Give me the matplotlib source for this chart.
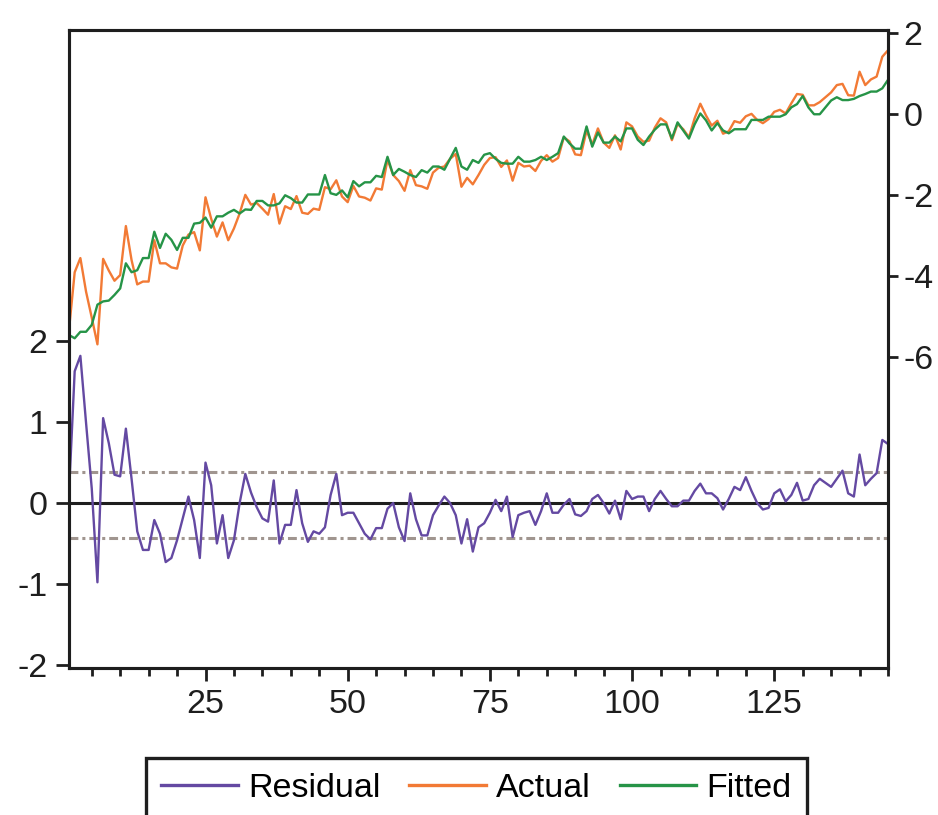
import numpy as np
import matplotlib
matplotlib.use('Agg')
import matplotlib.pyplot as plt
from matplotlib.ticker import FixedLocator

# residual / actual / fitted, observations 1..145
RESID = [0.13, 1.63, 1.82, 0.99, 0.18, -0.98, 1.05, 0.74, 0.35, 0.33,
         0.92, 0.30, -0.35, -0.58, -0.58, -0.21, -0.38, -0.73, -0.68, -0.46,
         -0.19, 0.08, -0.21, -0.68, 0.50, 0.22, -0.50, -0.15, -0.68, -0.46,
         0.00, 0.36, 0.13, -0.05, -0.19, -0.23, 0.28, -0.50, -0.27, -0.27,
         0.16, -0.25, -0.48, -0.35, -0.38, -0.30, 0.10, 0.36, -0.15, -0.12,
         -0.12, -0.25, -0.38, -0.45, -0.31, -0.31, -0.07, 0.00, -0.30, -0.47,
         0.12, -0.20, -0.40, -0.40, -0.15, -0.03, 0.08, 0.00, -0.15, -0.50,
         -0.20, -0.60, -0.30, -0.25, -0.12, 0.04, -0.10, 0.08, -0.42, -0.15,
         -0.12, -0.10, -0.27, -0.10, 0.12, -0.12, -0.12, -0.02, 0.05, -0.14,
         -0.16, -0.10, 0.05, 0.10, 0.00, -0.13, 0.03, -0.20, 0.15, 0.05,
         0.08, 0.08, -0.10, 0.05, 0.15, 0.05, -0.04, -0.04, 0.03, 0.03,
         0.15, 0.24, 0.12, 0.12, 0.06, -0.08, 0.05, 0.20, 0.16, 0.32,
         0.15, 0.00, -0.08, -0.06, 0.12, 0.17, 0.02, 0.10, 0.25, 0.03,
         0.05, 0.22, 0.30, 0.25, 0.20, 0.30, 0.40, 0.12, 0.08, 0.60,
         0.22, 0.30, 0.37, 0.78, 0.73]

FITTED = [-5.45, -5.53, -5.37, -5.37, -5.20, -4.70, -4.62, -4.60, -4.46, -4.30,
          -3.68, -3.90, -3.85, -3.55, -3.55, -2.90, -3.30, -2.95, -3.10, -3.35,
          -3.05, -3.05, -2.70, -2.68, -2.55, -2.80, -2.52, -2.52, -2.43, -2.36,
          -2.45, -2.35, -2.36, -2.14, -2.14, -2.25, -2.25, -2.20, -2.00, -2.07,
          -2.18, -2.18, -1.98, -1.98, -1.98, -1.50, -1.95, -1.99, -1.88, -2.05,
          -1.65, -1.78, -1.68, -1.68, -1.52, -1.55, -1.05, -1.50, -1.35, -1.42,
          -1.50, -1.55, -1.38, -1.44, -1.29, -1.29, -1.37, -1.10, -0.83, -1.29,
          -1.37, -1.13, -1.20, -1.00, -0.96, -1.10, -1.20, -1.22, -1.22, -1.05,
          -1.17, -1.17, -1.13, -1.05, -1.13, -1.05, -0.96, -0.55, -0.72, -0.85,
          -0.85, -0.30, -0.80, -0.45, -0.70, -0.70, -0.55, -0.67, -0.35, -0.35,
          -0.63, -0.76, -0.55, -0.38, -0.25, -0.25, -0.60, -0.20, -0.40, -0.60,
          -0.25, 0.02, -0.15, -0.40, -0.22, -0.40, -0.47, -0.37, -0.37, -0.37,
          -0.14, -0.14, -0.14, -0.06, -0.06, -0.06, 0.00, 0.17, 0.25, 0.45,
          0.17, 0.00, 0.00, 0.17, 0.34, 0.42, 0.35, 0.35, 0.38, 0.45,
          0.50, 0.56, 0.56, 0.64, 0.85]

ACTUAL = [-5.32, -3.90, -3.55, -4.38, -5.02, -5.68, -3.57, -3.86, -4.11, -3.97,
          -2.76, -3.60, -4.20, -4.13, -4.13, -3.11, -3.68, -3.68, -3.78, -3.81,
          -3.24, -2.97, -2.91, -3.36, -2.05, -2.58, -3.02, -2.67, -3.11, -2.82,
          -2.45, -1.99, -2.23, -2.19, -2.33, -2.48, -1.97, -2.70, -2.27, -2.34,
          -2.02, -2.43, -2.46, -2.33, -2.36, -1.80, -1.85, -1.63, -2.03, -2.17,
          -1.77, -2.03, -2.06, -2.13, -1.83, -1.86, -1.12, -1.50, -1.65, -1.89,
          -1.38, -1.75, -1.78, -1.84, -1.44, -1.32, -1.29, -1.10, -0.98, -1.79,
          -1.57, -1.73, -1.50, -1.25, -1.08, -1.06, -1.30, -1.14, -1.64, -1.20,
          -1.29, -1.27, -1.40, -1.15, -1.01, -1.17, -1.08, -0.57, -0.67, -0.99,
          -1.01, -0.40, -0.75, -0.35, -0.70, -0.83, -0.52, -0.87, -0.20, -0.30,
          -0.55, -0.68, -0.65, -0.33, -0.10, -0.20, -0.64, -0.24, -0.37, -0.57,
          -0.10, 0.26, -0.03, -0.28, -0.16, -0.48, -0.42, -0.17, -0.21, -0.05,
          0.01, -0.14, -0.22, -0.12, 0.06, 0.11, 0.02, 0.27, 0.50, 0.48,
          0.22, 0.22, 0.30, 0.42, 0.54, 0.72, 0.75, 0.47, 0.46, 1.05,
          0.72, 0.86, 0.93, 1.42, 1.58]

SE_UP, SE_LO = 0.38, -0.43   # standard error band
XTICKS = [25, 50, 75, 100, 125]
LEFT_TICKS = [-2, -1, 0, 1, 2]
RIGHT_TICKS = [-6, -4, -2, 0, 2]

PURPLE = '#6449a2'
ORANGE = '#f27a35'
GREEN = '#269447'
INK = '#1e1e1e'

plt.rcParams['font.family'] = ['Liberation Sans', 'DejaVu Sans']
plt.rcParams['axes.unicode_minus'] = False

fig = plt.figure(figsize=(9.38, 8.15), dpi=100)
ax = fig.add_axes([69/938, 1-668/815, (888-69)/938, (668-30)/815])
ax2 = ax.twinx()

obs = np.arange(1, len(RESID) + 1)

ax.axhline(0, color=INK, lw=2.2, zorder=1)
ax.axhline(SE_UP, color='#a0958f', lw=2.2, ls=(0, (2.9, 1.3, 1.0, 1.3)), zorder=1)
ax.axhline(SE_LO, color='#a0958f', lw=2.2, ls=(0, (2.9, 1.3, 1.0, 1.3)), zorder=1)
l_res, = ax.plot(obs, RESID, color=PURPLE, lw=1.7, zorder=2, label='Residual')
l_act, = ax2.plot(obs, ACTUAL, color=ORANGE, lw=1.7, label='Actual')
l_fit, = ax2.plot(obs, FITTED, color=GREEN, lw=1.7, label='Fitted')

ax.set_xlim(1, 145)
ax.set_ylim(-2.04, 5.85)
ax2.set_ylim(-13.67, 2.08)
ax.set_yticks(LEFT_TICKS)
ax2.set_yticks(RIGHT_TICKS)
ax.xaxis.set_major_locator(FixedLocator(XTICKS))
ax.xaxis.set_minor_locator(FixedLocator(list(range(5, 146, 5))))

ax.tick_params(axis='x', which='major', length=9.4, width=2, pad=6,
               labelsize=24.5, colors=INK)
ax.tick_params(axis='x', which='minor', length=5.8, width=2, colors=INK)
ax.tick_params(axis='y', length=9.5, width=2, pad=6, labelsize=24.5, colors=INK)
ax2.tick_params(axis='y', length=7, width=2, pad=4, labelsize=24.5, colors=INK)

for a in (ax, ax2):
    for s in a.spines.values():
        s.set_linewidth(2.2)
        s.set_color(INK)

leg = fig.legend([l_res, l_act, l_fit], ['Residual', 'Actual', 'Fitted'],
                 loc='upper center', bbox_to_anchor=(0.508, 1-758/815),
                 ncol=3, fontsize=24.5, frameon=True, fancybox=False,
                 framealpha=1, edgecolor=INK, handlelength=2.25,
                 handletextpad=0.3, columnspacing=0.85, borderpad=0.45,
                 borderaxespad=0)
leg.get_frame().set_linewidth(2.4)
for ln in leg.get_lines():
    ln.set_linewidth(2.4)

fig.savefig('out.png', dpi=100)
